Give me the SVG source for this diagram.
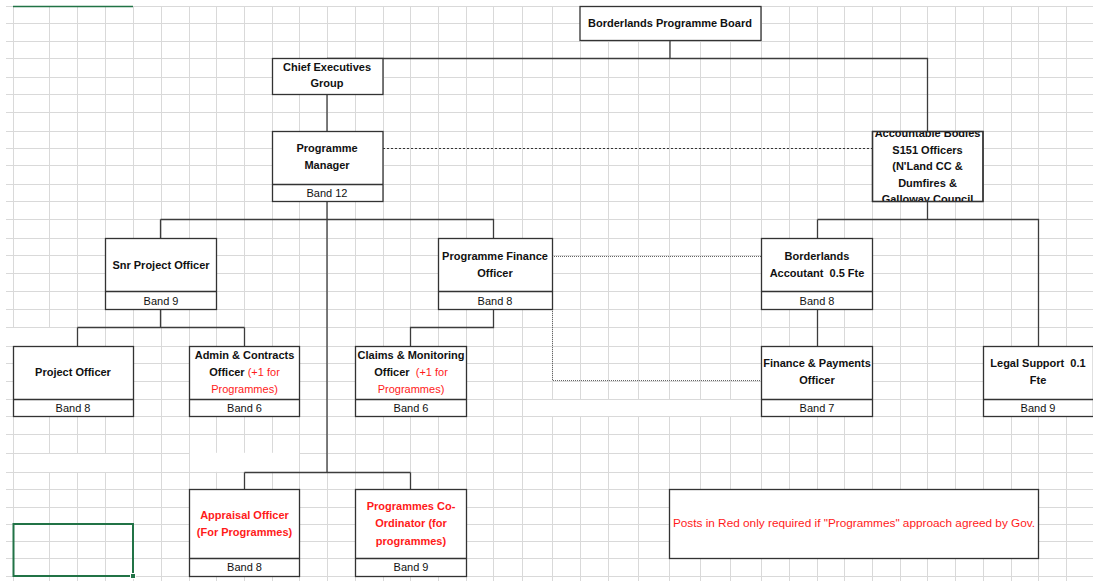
<svg xmlns="http://www.w3.org/2000/svg" width="1093" height="581" viewBox="0 0 1093 581">
<defs>
<style>
.grid{stroke:#d9d9d9;stroke-width:1;fill:none}
.box{fill:#fff;stroke:#333;stroke-width:1.3}
.sep{stroke:#333;stroke-width:1.3}
.con{stroke:#3c3c3c;stroke-width:1.3;fill:none}
.dot1{stroke:#333;stroke-width:1.1;stroke-dasharray:2 2;fill:none}
.dot2{stroke:#666;stroke-width:1;stroke-dasharray:1 1;fill:none}
text{font-family:"Liberation Sans",Arial,sans-serif;font-size:11px;text-anchor:middle;fill:#111}
.b{font-weight:bold}
.red{fill:#ff1a1a}
.note{font-size:11.8px}
</style>
<clipPath id="clipAB"><rect x="872" y="131" width="111" height="70"/></clipPath>
</defs>
<rect width="1093" height="581" fill="#fff"/>
<g id="grid" class="grid">
<path d="M13.5 6V581M49.5 6V581M77.5 6V581M105.5 6V581M133.5 6V581M161.5 6V581M189.5 6V581M216.5 6V581M244.5 6V581M272.5 6V581M299.5 6V581M327.5 6V581M355.5 6V581M383.5 6V581M410.5 6V581M438.5 6V581M466.5 6V581M493.5 6V581M522.5 6V581M552.5 6V581M580.5 6V581M608.5 6V581M638.5 6V581M669.5 6V581M700.5 6V581M730.5 6V581M761.5 6V581M789.5 6V581M817.5 6V581M844.5 6V581M872.5 6V581M900.5 6V581M927.5 6V581M955.5 6V581M983.5 6V581M1011.5 6V581M1038.5 6V581M1066.5 6V581"/>
<path d="M6 6.5H1093M6 23.5H1093M6 41.5H1093M6 58.5H1093M6 77.5H1093M6 94.5H1093M6 112.5H1093M6 131.5H1093M6 148.5H1093M6 165.5H1093M6 184.5H1093M6 201.5H1093M6 219.5H1093M6 238.5H1093M6 255.5H1093M6 273.5H1093M6 291.5H1093M6 309.5H1093M6 327.5H1093M6 346.5H1093M6 363.5H1093M6 381.5H1093M6 399.5H1093M6 416.5H1093M6 434.5H1093M6 453.5H1093M6 472.5H1093M6 489.5H1093M6 507.5H1093M6 524.5H1093M6 541.5H1093M6 558.5H1093M6 576.5H1093"/>
</g>
<g id="grid-gaps" fill="#fff">
<rect x="0" y="328" width="76.5" height="18"/>
<rect x="14" y="454" width="119" height="18"/>
<rect x="190" y="452.8" width="109" height="19"/>
<rect x="523" y="400" width="237.5" height="16"/>
</g>
<path d="M13 6.5H133" stroke="#217346" stroke-width="1.5"/>
<g id="connectors">
<path class="con" d="M670 40V58.5M327 58.5H927.5V131M327 94V131M327 201V472.5M160.5 219.5H493.5V238M160.5 219.5V238M160.5 309V327.5M77.5 327.5H244.5M77.5 327.5V346M244.5 327.5V346M493.5 309V327.5H410.5V346M927.5 201V219.5M817.5 219.5H1038.5V346M817.5 219.5V238M817.5 309V346M244.5 472.5H410.5M244.5 472.5V489M410.5 472.5V489"/>
<path class="dot1" d="M383 148.5H872"/>
<path class="dot2" d="M552 256.5H761M552.5 309V380.5H761"/>
</g>
<g id="board">
<rect class="box" x="580" y="6.5" width="181" height="34"/>
<text class="b" x="670" y="27">Borderlands Programme Board</text>
</g>
<g id="chief-exec">
<rect class="box" x="272.5" y="58.5" width="110.5" height="36"/>
<text class="b" x="327" y="71">Chief Executives</text>
<text class="b" x="327" y="87">Group</text>
</g>
<g id="programme-manager">
<rect class="box" x="272.5" y="131.5" width="110.5" height="70"/>
<line class="sep" x1="272.5" y1="184.5" x2="383" y2="184.5"/>
<text class="b" x="327" y="152">Programme</text>
<text class="b" x="327" y="169">Manager</text>
<text x="327" y="196.5">Band 12</text>
</g>
<g id="accountable-bodies">
<rect class="box" x="872.5" y="131.5" width="110.5" height="70"/>
<g clip-path="url(#clipAB)">
<text class="b" x="927.5" y="137">Accountable Bodies</text>
<text class="b" x="927.5" y="153.5">S151 Officers</text>
<text class="b" x="927.5" y="170">(N'Land CC &amp;</text>
<text class="b" x="927.5" y="186.5">Dumfires &amp;</text>
<text class="b" x="927.5" y="203">Galloway Council</text>
</g>
<rect x="872.5" y="131.5" width="110.5" height="70" fill="none" stroke="#333" stroke-width="1.3"/>
</g>
<g id="snr-project-officer">
<rect class="box" x="105.5" y="238.5" width="111" height="71"/>
<line class="sep" x1="105.5" y1="291.5" x2="216.5" y2="291.5"/>
<text class="b" x="161" y="269">Snr Project Officer</text>
<text x="161" y="304.5">Band 9</text>
</g>
<g id="programme-finance-officer">
<rect class="box" x="438.5" y="238.5" width="114" height="71"/>
<line class="sep" x1="438.5" y1="291.5" x2="552.5" y2="291.5"/>
<text class="b" x="495" y="260">Programme Finance</text>
<text class="b" x="495" y="276.5">Officer</text>
<text x="495" y="304.5">Band 8</text>
</g>
<g id="borderlands-accountant">
<rect class="box" x="761.5" y="238.5" width="111" height="71"/>
<line class="sep" x1="761.5" y1="291.5" x2="872.5" y2="291.5"/>
<text class="b" x="817" y="260">Borderlands</text>
<text class="b" x="817" y="276.5" xml:space="preserve">Accoutant  0.5 Fte</text>
<text x="817" y="304.5">Band 8</text>
</g>
<g id="project-officer">
<rect class="box" x="13.5" y="346.5" width="120" height="70"/>
<line class="sep" x1="13.5" y1="399.5" x2="133.5" y2="399.5"/>
<text class="b" x="73" y="376">Project Officer</text>
<text x="73" y="412">Band 8</text>
</g>
<g id="admin-contracts">
<rect class="box" x="189.5" y="346.5" width="110" height="70"/>
<line class="sep" x1="189.5" y1="399.5" x2="299.5" y2="399.5"/>
<text class="b" x="244.5" y="359">Admin &amp; Contracts</text>
<text x="244.5" y="376"><tspan class="b">Officer </tspan><tspan class="red">(+1 for</tspan></text>
<text class="red" x="244.5" y="393">Programmes)</text>
<text x="244.5" y="412">Band 6</text>
</g>
<g id="claims-monitoring">
<rect class="box" x="355.5" y="346.5" width="111" height="70"/>
<line class="sep" x1="355.5" y1="399.5" x2="466.5" y2="399.5"/>
<text class="b" x="411" y="359">Claims &amp; Monitoring</text>
<text x="411" y="376" xml:space="preserve"><tspan class="b">Officer  </tspan><tspan class="red">(+1 for</tspan></text>
<text class="red" x="411" y="393">Programmes)</text>
<text x="411" y="412">Band 6</text>
</g>
<g id="finance-payments">
<rect class="box" x="761.5" y="346.5" width="111" height="70"/>
<line class="sep" x1="761.5" y1="399.5" x2="872.5" y2="399.5"/>
<text class="b" x="817" y="367">Finance &amp; Payments</text>
<text class="b" x="817" y="384">Officer</text>
<text x="817" y="412">Band 7</text>
</g>
<g id="legal-support">
<rect class="box" x="983.5" y="346.5" width="110" height="70"/>
<line class="sep" x1="983.5" y1="399.5" x2="1093" y2="399.5"/>
<text class="b" x="1038" y="367" xml:space="preserve">Legal Support  0.1</text>
<text class="b" x="1038" y="384">Fte</text>
<text x="1038" y="412">Band 9</text>
</g>
<g id="appraisal-officer">
<rect class="box" x="189.5" y="489.5" width="110" height="87"/>
<line class="sep" x1="189.5" y1="558.5" x2="299.5" y2="558.5"/>
<text class="b red" x="244.5" y="519">Appraisal Officer</text>
<text class="b red" x="244.5" y="536">(For Programmes)</text>
<text x="244.5" y="571">Band 8</text>
</g>
<g id="programmes-coordinator">
<rect class="box" x="355.5" y="489.5" width="111" height="87"/>
<line class="sep" x1="355.5" y1="558.5" x2="466.5" y2="558.5"/>
<text class="b red" x="411" y="510">Programmes Co-</text>
<text class="b red" x="411" y="527">Ordinator (for</text>
<text class="b red" x="411" y="545">programmes)</text>
<text x="411" y="571">Band 9</text>
</g>
<g id="note">
<rect class="box" x="669.5" y="489.5" width="369" height="69"/>
<text class="red note" x="854" y="527">Posts in Red only required if "Programmes" approach agreed by Gov.</text>
</g>
<g id="selected-cell">
<rect x="13.5" y="524" width="119.5" height="52" fill="none" stroke="#217346" stroke-width="2"/>
<rect x="130.5" y="573.5" width="5" height="5" fill="#217346" stroke="#fff" stroke-width="1"/>
</g>
</svg>
